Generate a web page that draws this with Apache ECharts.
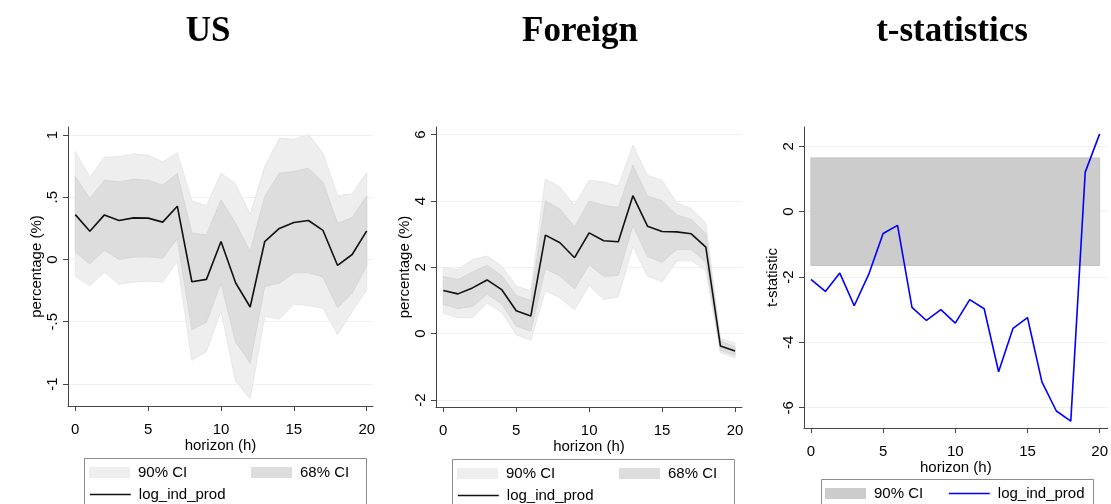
<!DOCTYPE html>
<html>
<head>
<meta charset="utf-8">
<title>Impulse responses: US, Foreign, t-statistics</title>
<script src="https://cdn.jsdelivr.net/npm/echarts@6/dist/echarts.min.js"></script>
<style>
  html, body { margin: 0; padding: 0; background: #fff; }
  #chart { width: 1111px; height: 504px; }
</style>
</head>
<body>
<div id="chart"></div>
<script>
// Horizon (h) of the impulse responses
const horizon = [0, 1, 2, 3, 4, 5, 6, 7, 8, 9, 10, 11, 12, 13, 14, 15, 16, 17, 18, 19, 20];

// US response of log_ind_prod (percent) with 68% and 90% bands
const usIrf  = [0.36, 0.227, 0.358, 0.313, 0.334, 0.332, 0.30, 0.428, -0.179, -0.16, 0.144, -0.187, -0.382, 0.144, 0.249, 0.297, 0.313, 0.233, -0.048, 0.04, 0.23];
const usHi68 = [0.666, 0.489, 0.636, 0.623, 0.644, 0.636, 0.596, 0.69, 0.211, 0.198, 0.479, 0.291, 0.064, 0.505, 0.693, 0.706, 0.733, 0.618, 0.291, 0.337, 0.511];
const usLo68 = [0.059, -0.035, 0.075, 0.0, 0.019, 0.021, 0.011, 0.166, -0.564, -0.503, -0.19, -0.663, -0.832, -0.217, -0.19, -0.107, -0.107, -0.142, -0.388, -0.27, -0.051];
const usHi90 = [0.866, 0.663, 0.821, 0.826, 0.848, 0.837, 0.783, 0.858, 0.471, 0.43, 0.693, 0.607, 0.358, 0.746, 0.973, 0.965, 1.005, 0.853, 0.511, 0.527, 0.70];
const usLo90 = [-0.136, -0.209, -0.104, -0.2, -0.182, -0.174, -0.182, -0.016, -0.81, -0.738, -0.412, -0.979, -1.12, -0.457, -0.479, -0.358, -0.369, -0.393, -0.604, -0.417, -0.243];

// Foreign response of log_ind_prod (percent) with 68% and 90% bands
const fgIrf  = [1.30, 1.20, 1.38, 1.62, 1.33, 0.69, 0.53, 2.97, 2.74, 2.29, 3.04, 2.80, 2.77, 4.16, 3.24, 3.08, 3.07, 3.01, 2.61, -0.37, -0.52];
const fgHi68 = [1.72, 1.63, 1.86, 2.06, 1.75, 1.15, 1.00, 4.00, 3.76, 3.22, 4.00, 3.87, 3.80, 5.08, 4.14, 4.01, 3.58, 3.44, 3.02, -0.23, -0.40];
const fgLo68 = [0.88, 0.76, 0.82, 1.19, 0.90, 0.23, 0.08, 1.96, 1.74, 1.35, 2.08, 1.73, 1.76, 3.26, 2.33, 2.15, 2.54, 2.54, 2.16, -0.50, -0.65];
const fgHi90 = [2.00, 1.93, 2.23, 2.34, 2.04, 1.44, 1.29, 4.66, 4.42, 3.87, 4.62, 4.57, 4.45, 5.68, 4.77, 4.62, 3.94, 3.77, 3.34, -0.15, -0.28];
const fgLo90 = [0.62, 0.48, 0.48, 0.92, 0.65, -0.03, -0.20, 1.29, 1.08, 0.72, 1.46, 1.03, 1.11, 2.63, 1.74, 1.56, 2.19, 2.21, 1.91, -0.57, -0.72];

// t-statistics of the difference, and the 90% critical band
const tStat = [-2.07, -2.44, -1.88, -2.88, -1.92, -0.67, -0.42, -2.93, -3.33, -3.00, -3.41, -2.69, -2.97, -4.90, -3.57, -3.24, -5.21, -6.10, -6.41, 1.21, 2.38];
const critBand = [-1.645, 1.645];
const bandSpan = [0, 20];

// Axis ticks and their labels
const xTicks = [0, 5, 10, 15, 20];
const usTicks = [-1, -0.5, 0, 0.5, 1];
const usTickText = ['-1', '-.5', '0', '.5', '1'];
const fgTicks = [-2, 0, 2, 4, 6];
const tTicks = [-6, -4, -2, 0, 2];

const panelTitles = ['US', 'Foreign', 't-statistics'];

const SANS = 'Liberation Sans, Arial, sans-serif';
const SERIF = 'Liberation Serif, Times New Roman, serif';
const FS = 15;
const C90 = '#eeeeee';
const C68 = '#dddddd';
const GRID_LINE = '#eaf2f3';
const AXIS_COLOR = '#444444';

const pairs = (ys) => horizon.map((h, i) => [h, ys[i]]);
const triples = (lo, hi) => horizon.map((h, i) => [h, lo[i], hi[i]]);

function xAxisFor(gridIndex, min, max) {
  return {
    type: 'value', gridIndex, min, max,
    name: 'horizon (h)', nameLocation: 'middle', nameGap: 32, nameMoveOverlap: false,
    nameTextStyle: { fontFamily: SANS, fontSize: FS, color: '#000' },
    axisLine: { show: true, onZero: false, lineStyle: { color: AXIS_COLOR, width: 1 } },
    axisTick: { show: true, length: 5, lineStyle: { color: AXIS_COLOR }, customValues: xTicks },
    axisLabel: { fontFamily: SANS, fontSize: FS, color: '#000', margin: 16, customValues: xTicks },
    splitLine: { show: false }
  };
}

function yAxisFor(gridIndex, min, max, ticks, labelOf, name) {
  return {
    type: 'value', gridIndex, min, max,
    name, nameLocation: 'middle', nameGap: 23, nameRotate: 90,
    nameTextStyle: { fontFamily: SANS, fontSize: FS, color: '#000' },
    axisLine: { show: true, onZero: false, lineStyle: { color: AXIS_COLOR, width: 1 } },
    axisTick: { show: true, length: 5, lineStyle: { color: AXIS_COLOR }, customValues: ticks },
    axisLabel: {
      fontFamily: SANS, fontSize: FS, color: '#000', margin: 8, rotate: 90,
      customValues: ticks, formatter: labelOf
    },
    splitLine: { show: true, lineStyle: { color: GRID_LINE, width: 1 } }
  };
}

// A shaded band between lower and upper bounds, drawn as one polygon
function bandSeries(idx, name, lo, hi, fill, edge) {
  return {
    name, type: 'custom', xAxisIndex: idx, yAxisIndex: idx, silent: true,
    data: triples(lo, hi),
    renderItem: function (params, api) {
      if (params.dataIndexInside !== 0) return null;
      const n = params.dataInsideLength || horizon.length;
      const upper = [], lower = [];
      for (let i = 0; i < n; i++) {
        upper.push(api.coord([api.value(0, i), api.value(2, i)]));
        lower.push(api.coord([api.value(0, i), api.value(1, i)]));
      }
      return {
        type: 'polygon',
        shape: { points: upper.concat(lower.reverse()) },
        style: { fill, stroke: edge, lineWidth: 1 }
      };
    }
  };
}

function irfSeries(idx, lo90, hi90, lo68, hi68, irf) {
  return [
    bandSeries(idx, '90% CI', lo90, hi90, C90, '#e7e7e7'),
    bandSeries(idx, '68% CI', lo68, hi68, C68, '#d7d7d7'),
    { name: 'log_ind_prod', type: 'line', xAxisIndex: idx, yAxisIndex: idx, symbol: 'none', silent: true,
      data: pairs(irf), lineStyle: { width: 1.6, color: '#111' } }
  ];
}

function legendAt(left, top, name, style) {
  return {
    left, top, padding: 0, selectedMode: false,
    itemWidth: 41, itemHeight: 11, itemGap: 0,
    textStyle: { fontFamily: SANS, fontSize: FS, color: '#000', padding: [0, 0, 0, 3] },
    data: [Object.assign({ name }, style)]
  };
}

const bandIcon = (c) => ({ icon: 'rect', itemStyle: { color: c, borderWidth: 0 } });
const lineIcon = (c) => ({ lineStyle: { color: c, width: 1.6 }, itemStyle: { opacity: 0 } });

const option = {
  animation: false,
  backgroundColor: '#ffffff',
  title: [
    { text: panelTitles[0], left: 203, top: 9, textAlign: 'center' },
    { text: panelTitles[1], left: 575, top: 9, textAlign: 'center' },
    { text: panelTitles[2], left: 947, top: 9, textAlign: 'center' }
  ].map(t => Object.assign(t, { textStyle: { fontFamily: SERIF, fontWeight: 'bold', fontSize: 35, color: '#000' } })),
  grid: [
    { left: 68, top: 127, width: 305, height: 279 },
    { left: 436, top: 127, width: 306, height: 280 },
    { left: 804, top: 127, width: 307, height: 301 }
  ],
  xAxis: [
    xAxisFor(0, -0.5, 20.43),
    xAxisFor(1, -0.5, 20.48),
    xAxisFor(2, -0.48, 20.55)
  ],
  yAxis: [
    yAxisFor(0, -1.177, 1.064, usTicks, (v) => usTickText[usTicks.indexOf(v)] ?? String(v), 'percentage (%)'),
    yAxisFor(1, -2.21, 6.23, fgTicks, (v) => String(v), 'percentage (%)'),
    yAxisFor(2, -6.62, 2.59, tTicks, (v) => String(v), 't-statistic')
  ],
  legend: [
    legendAt(89, 465, '90% CI', bandIcon(C90)),
    legendAt(251, 465, '68% CI', bandIcon(C68)),
    legendAt(89, 487, 'log_ind_prod', lineIcon('#111')),
    legendAt(457, 466, '90% CI', bandIcon(C90)),
    legendAt(619, 466, '68% CI', bandIcon(C68)),
    legendAt(457, 488, 'log_ind_prod', lineIcon('#111')),
    legendAt(825, 486, '90% CI', bandIcon('#cccccc')),
    legendAt(948, 486, 'log_ind_prod', lineIcon('#0000ff'))
  ],
  graphic: [
    { type: 'rect', shape: { x: 84.5, y: 458.5, width: 282, height: 60 }, style: { fill: 'none', stroke: '#8c8c8c', lineWidth: 1 }, silent: true },
    { type: 'rect', shape: { x: 452.5, y: 459.5, width: 282, height: 60 }, style: { fill: 'none', stroke: '#8c8c8c', lineWidth: 1 }, silent: true },
    { type: 'rect', shape: { x: 821.5, y: 479.5, width: 272, height: 40 }, style: { fill: 'none', stroke: '#8c8c8c', lineWidth: 1 }, silent: true }
  ],
  series: [
    ...irfSeries(0, usLo90, usHi90, usLo68, usHi68, usIrf),
    ...irfSeries(1, fgLo90, fgHi90, fgLo68, fgHi68, fgIrf),
    {
      // critical-value band across the horizon
      name: '90% CI', type: 'custom', xAxisIndex: 2, yAxisIndex: 2, silent: true,
      data: [[bandSpan[0], critBand[0], bandSpan[1], critBand[1]]],
      renderItem: function (params, api) {
        const p0 = api.coord([api.value(0), api.value(3)]);
        const p1 = api.coord([api.value(2), api.value(1)]);
        return {
          type: 'rect',
          shape: { x: p0[0], y: p0[1], width: p1[0] - p0[0], height: p1[1] - p0[1] },
          style: { fill: '#cccccc', stroke: '#c2c2c2', lineWidth: 1 }
        };
      }
    },
    {
      name: 'log_ind_prod', type: 'line', xAxisIndex: 2, yAxisIndex: 2, symbol: 'none', silent: true,
      data: pairs(tStat), lineStyle: { width: 1.6, color: '#0000ff' }
    }
  ]
};

const chart = echarts.init(document.getElementById('chart'), null, { renderer: 'canvas' });
chart.setOption(option);
</script>
</body>
</html>
